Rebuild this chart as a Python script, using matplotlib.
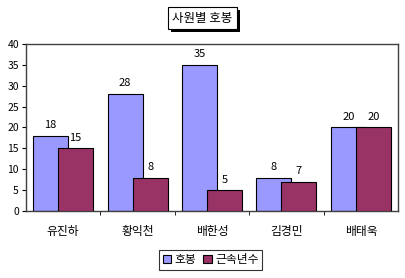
import numpy as np
import matplotlib.pyplot as plt
import matplotlib.patheffects as pe

plt.rcParams['font.family'] = ['Noto Sans CJK KR', 'DejaVu Sans']

names = ['유진하', '황익천', '배한성', '김경민', '배태욱']
hobong = [18, 28, 35, 8, 20]
years = [15, 8, 5, 7, 20]
series_labels = ['호봉', '근속년수']
colors = ['#9999FF', '#993366']

fig = plt.figure(figsize=(4.05, 2.78), dpi=100)
ax = fig.add_axes([0.064, 0.241, 0.919, 0.601])

x = np.arange(len(names))
w = 0.47
off = 0.168
b1 = ax.bar(x - off, hobong, w, color=colors[0], edgecolor='black', linewidth=0.8,
            label=series_labels[0], zorder=2)
b2 = ax.bar(x + off, years, w, color=colors[1], edgecolor='black', linewidth=0.8,
            label=series_labels[1], zorder=3)
ax.bar_label(b1, padding=4, fontsize=8)
ax.bar_label(b2, padding=4, fontsize=8)

ax.set_xlim(-0.5, len(names) - 0.5)
ax.set_ylim(0, 40)
ax.set_yticks(range(0, 41, 5))
ax.set_xticks(x)
ax.set_xticklabels(names, fontsize=8.5)
ax.set_xticks(np.arange(0.5, len(names) - 0.5), minor=True)
ax.tick_params(axis='x', which='major', length=0, pad=10)
ax.tick_params(axis='x', which='minor', length=3, direction='out')
ax.tick_params(axis='y', labelsize=7.5, length=3, direction='out', pad=2)
for s in ax.spines.values():
    s.set_color('#404040')
    s.set_linewidth(1.0)

# title box with a drop shadow
title = fig.text(0.5, 0.935, '사원별 호봉', ha='center', va='center', fontsize=9,
                 bbox=dict(boxstyle='square,pad=0.35', facecolor='white',
                           edgecolor='black', linewidth=0.8))
title.get_bbox_patch().set_path_effects(
    [pe.SimplePatchShadow(offset=(2, -2), shadow_rgbFace='black', alpha=1), pe.Normal()])

leg = fig.legend(loc='center', bbox_to_anchor=(0.52, 0.065), ncol=2, fontsize=8.5,
                 frameon=True, fancybox=False, edgecolor='black', handlelength=0.7,
                 handleheight=0.7, handletextpad=0.3, columnspacing=0.6, borderpad=0.3)
leg.get_frame().set_linewidth(0.8)

fig.savefig('out.png', dpi=100)
